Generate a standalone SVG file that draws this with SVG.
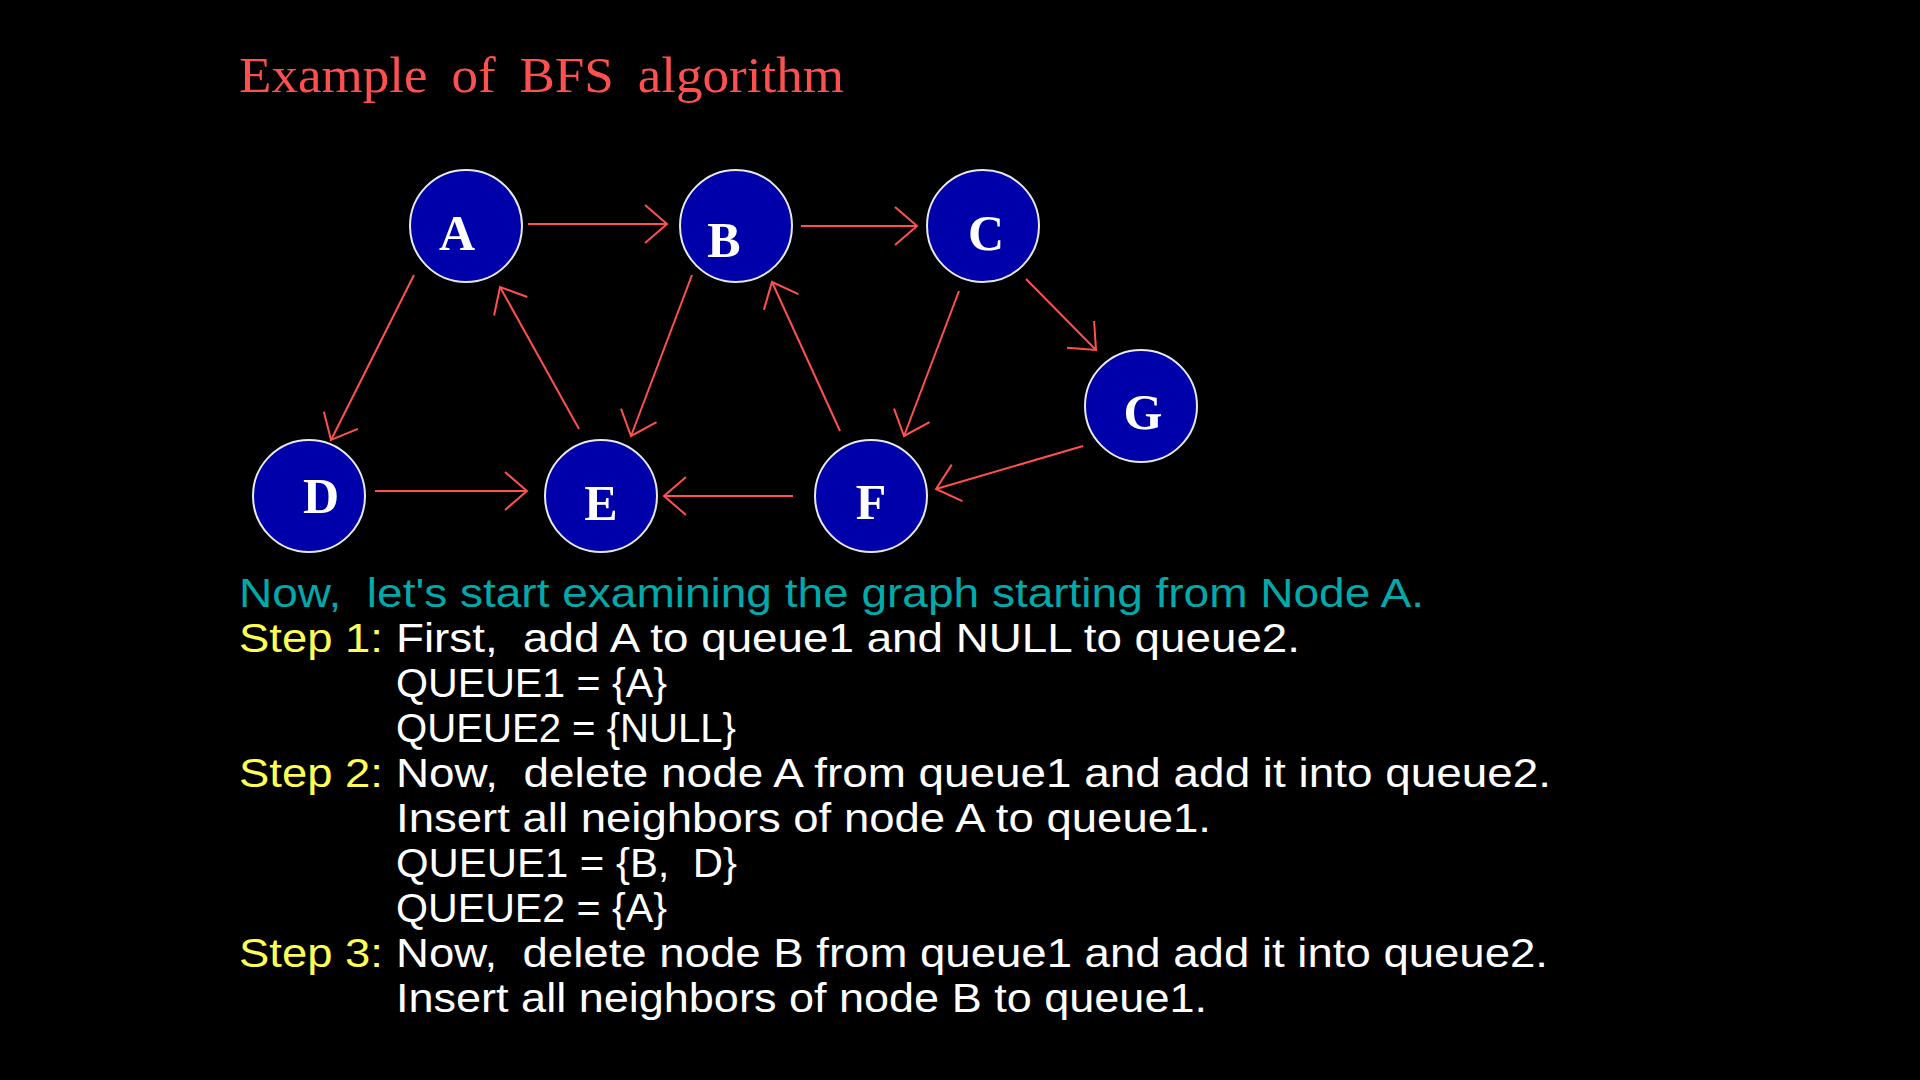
<svg xmlns="http://www.w3.org/2000/svg" width="1920" height="1080" viewBox="0 0 1920 1080">
<defs>
<style>
.node{fill:#0000AA;stroke:#E8E8E8;stroke-width:2}
.lbl{font-family:"Liberation Serif","Times New Roman",serif;font-size:50px;font-weight:bold;fill:#FFFFFF;text-anchor:middle}
.edge{fill:none;stroke:#FF5050;stroke-width:2;marker-end:url(#arr)}
.t{font-family:"Liberation Sans",Arial,sans-serif;font-size:40px;white-space:pre}
.cy{fill:#00AAAA}
.ye{fill:#FFFF55}
.wh{fill:#FFFFFF}
</style>
<marker id="arr" markerUnits="userSpaceOnUse" viewBox="-30 -25 32 50" markerWidth="32" markerHeight="50" refX="0" refY="0" orient="auto" overflow="visible">
<path d="M-22,-19 L0,0 L-22,19" fill="none" stroke="#FF5050" stroke-width="2"/>
</marker>
</defs>
<rect x="0" y="0" width="1920" height="1080" fill="#000000"/>
<text x="239" y="92" font-family="Liberation Serif, Times New Roman, serif" font-size="50" fill="#FF5050" word-spacing="10" textLength="605" lengthAdjust="spacingAndGlyphs">Example of BFS algorithm</text>
<g id="connectors">
<line class="edge" x1="528" y1="224" x2="667" y2="224"/>
<line class="edge" x1="801" y1="226" x2="917" y2="226"/>
<line class="edge" x1="414" y1="275" x2="331" y2="440"/>
<line class="edge" x1="579" y1="429" x2="500" y2="287"/>
<line class="edge" x1="692" y1="275" x2="631" y2="436"/>
<line class="edge" x1="375" y1="491" x2="527" y2="491"/>
<line class="edge" x1="793" y1="496" x2="664" y2="496"/>
<line class="edge" x1="840" y1="431" x2="772" y2="282"/>
<line class="edge" x1="959" y1="291" x2="904" y2="436"/>
<line class="edge" x1="1026" y1="279" x2="1096" y2="350"/>
<line class="edge" x1="1083" y1="446" x2="936" y2="489"/>
</g>
<g id="node-A"><circle class="node" cx="466" cy="226" r="56"/><text class="lbl" x="457" y="250">A</text></g>
<g id="node-B"><circle class="node" cx="736" cy="226" r="56"/><text class="lbl" x="724" y="257">B</text></g>
<g id="node-C"><circle class="node" cx="983" cy="226" r="56"/><text class="lbl" x="986" y="250">C</text></g>
<g id="node-G"><circle class="node" cx="1141" cy="406" r="56"/><text class="lbl" x="1143" y="429">G</text></g>
<g id="node-D"><circle class="node" cx="309" cy="496" r="56"/><text class="lbl" x="321" y="513">D</text></g>
<g id="node-E"><circle class="node" cx="601" cy="496" r="56"/><text class="lbl" x="601" y="520">E</text></g>
<g id="node-F"><circle class="node" cx="871" cy="496" r="56"/><text class="lbl" x="871" y="519">F</text></g>
<g id="text">
<text class="t cy" x="239" y="607" textLength="1185" lengthAdjust="spacingAndGlyphs">Now,  let's start examining the graph starting from Node A.</text>
<text class="t ye" x="239" y="652" textLength="144" lengthAdjust="spacingAndGlyphs">Step 1:</text>
<text class="t wh" x="396" y="652" textLength="904" lengthAdjust="spacingAndGlyphs">First,  add A to queue1 and NULL to queue2.</text>
<text class="t wh" x="396" y="697" textLength="271" lengthAdjust="spacingAndGlyphs">QUEUE1 = {A}</text>
<text class="t wh" x="396" y="742" textLength="340" lengthAdjust="spacingAndGlyphs">QUEUE2 = {NULL}</text>
<text class="t ye" x="239" y="787" textLength="144" lengthAdjust="spacingAndGlyphs">Step 2:</text>
<text class="t wh" x="396" y="787" textLength="1155" lengthAdjust="spacingAndGlyphs">Now,  delete node A from queue1 and add it into queue2.</text>
<text class="t wh" x="396" y="832" textLength="815" lengthAdjust="spacingAndGlyphs">Insert all neighbors of node A to queue1.</text>
<text class="t wh" x="396" y="877" textLength="341" lengthAdjust="spacingAndGlyphs">QUEUE1 = {B,  D}</text>
<text class="t wh" x="396" y="922" textLength="271" lengthAdjust="spacingAndGlyphs">QUEUE2 = {A}</text>
<text class="t ye" x="239" y="967" textLength="144" lengthAdjust="spacingAndGlyphs">Step 3:</text>
<text class="t wh" x="396" y="967" textLength="1152" lengthAdjust="spacingAndGlyphs">Now,  delete node B from queue1 and add it into queue2.</text>
<text class="t wh" x="396" y="1012" textLength="811" lengthAdjust="spacingAndGlyphs">Insert all neighbors of node B to queue1.</text>
</g>
</svg>
